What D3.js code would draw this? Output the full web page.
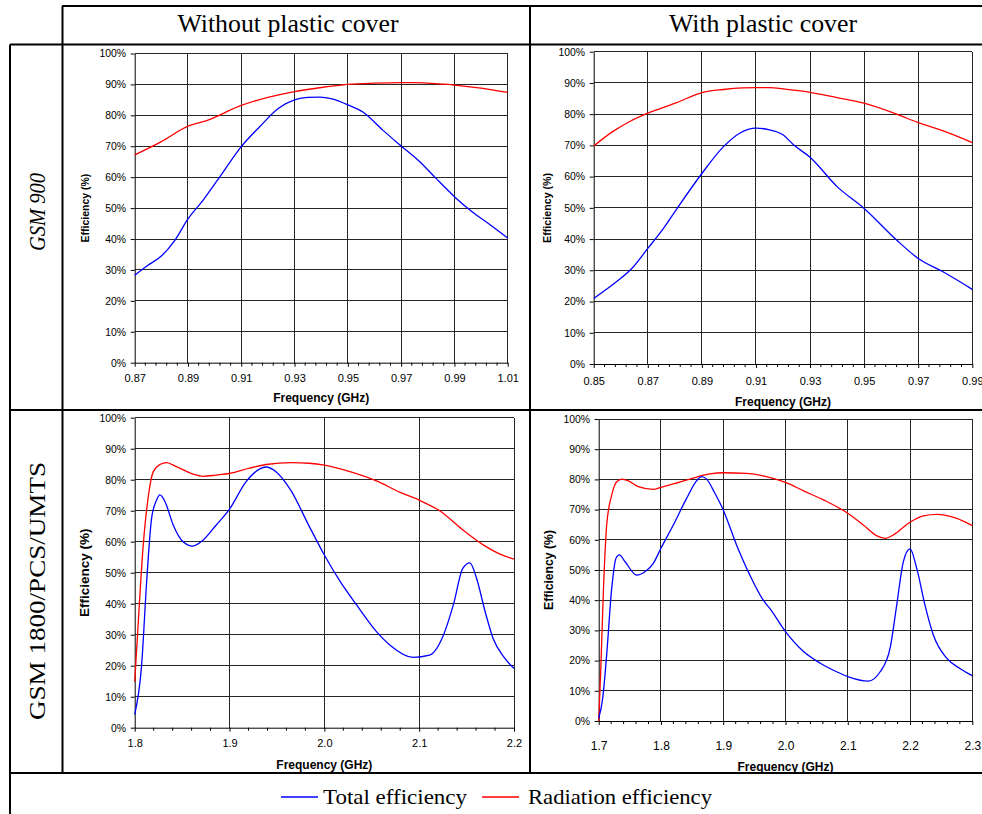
<html>
<head>
<title>Antenna efficiency, GSM 900 and GSM 1800/PCS/UMTS</title>
<script src="https://d3js.org/d3.v7.min.js"></script>
<style>
body { margin: 0; background: #ffffff; }
.tick text { font-family: 'Liberation Sans', Arial, sans-serif; fill: #000; }
.axis path, .axis line { stroke: #000; }
.grid { stroke: #262626; stroke-width: 1; shape-rendering: crispEdges; }
.frame { stroke: #000; stroke-width: 2; }
.serif { font-family: 'Liberation Serif', 'Times New Roman', serif; }
.sans { font-family: 'Liberation Sans', Arial, sans-serif; }
</style>
</head>
<body>
<svg id="chart" width="982" height="814"></svg>
<script>
// ---- data ----
var columnTitles = ["Without plastic cover", "With plastic cover"];
var rowTitles = ["GSM 900", "GSM 1800/PCS/UMTS"];
var legendLabels = ["Total efficiency", "Radiation efficiency"];
var seriesColors = ["#0000ff", "#ff0000"];

var yTicks = [0, 10, 20, 30, 40, 50, 60, 70, 80, 90, 100];
var xTicks900NoCover = [0.87, 0.89, 0.91, 0.93, 0.95, 0.97, 0.99, 1.01];
var xTicks900Cover = [0.85, 0.87, 0.89, 0.91, 0.93, 0.95, 0.97, 0.99];
var xTicks1800NoCover = [1.8, 1.9, 2.0, 2.1, 2.2];
var xTicks1800Cover = [1.7, 1.8, 1.9, 2.0, 2.1, 2.2, 2.3];

// [frequency GHz, efficiency %]
var total900NoCover = [[0.87,28.3],[0.875,31.5],[0.88,34.5],[0.885,39.5],[0.89,46.5],[0.8957,52.6],[0.902,60.2],
  [0.91,69.9],[0.917,76.4],[0.924,82.3],[0.93,85.0],[0.935,85.8],[0.9395,85.9],[0.944,85.3],[0.95,83.4],
  [0.9558,81.0],[0.963,75.3],[0.97,70.1],[0.977,65.0],[0.983,59.7],[0.99,53.7],[0.9965,48.9],[1.0034,44.6],[1.01,40.3]];
var rad900NoCover = [[0.87,67.2],[0.88,71.5],[0.89,76.5],[0.897,78.3],[0.91,83.2],[0.92,85.8],[0.93,87.7],
  [0.94,89.0],[0.95,90.0],[0.96,90.4],[0.97,90.6],[0.975,90.6],[0.98,90.4],[0.99,89.8],[1.0,88.8],[1.01,87.4]];

var total900Cover = [[0.85,21.0],[0.8585,26.4],[0.864,30.5],[0.87,37.0],[0.8758,43.4],[0.8813,50.4],[0.89,61.0],
  [0.898,69.6],[0.904,73.9],[0.91,75.5],[0.915,75.0],[0.92,73.4],[0.924,70.1],[0.93,66.2],[0.94,56.8],
  [0.95,49.8],[0.962,39.7],[0.97,33.8],[0.979,29.6],[0.99,23.9]];
var rad900Cover = [[0.85,69.8],[0.857,74.4],[0.863,77.5],[0.87,80.3],[0.8807,83.7],[0.89,86.9],[0.898,87.9],
  [0.905,88.4],[0.91,88.5],[0.9152,88.5],[0.92,88.1],[0.93,87.0],[0.94,85.3],[0.95,83.5],[0.962,80.0],
  [0.97,77.3],[0.979,74.7],[0.99,70.9]];

var total1800NoCover = [[1.8,4.3],[1.8073,20.2],[1.8126,47.1],[1.8178,67.5],[1.823,73.4],[1.8266,75.1],[1.832,72.9],
  [1.8406,65.4],[1.851,60.0],[1.8615,58.6],[1.872,60.5],[1.886,65.4],[1.9,70.5],[1.9175,79.4],[1.9315,83.4],
  [1.9385,84.1],[1.949,82.6],[1.965,76.4],[1.983,65.6],[2.0,55.7],[2.0168,47.1],[2.034,39.6],
  [2.055,31.0],[2.069,26.7],[2.0937,22.7],[2.111,23.4],[2.125,29.4],[2.136,39.6],[2.146,51.4],[2.1535,53.2],
  [2.1605,48.2],[2.1696,37.4],[2.178,28.8],[2.189,22.9],[2.2,19.1]];
var rad1800NoCover = [[1.8,14.8],[1.8038,34.2],[1.809,58.9],[1.8143,74.5],[1.8196,82.6],[1.8266,84.9],[1.8336,85.5],
  [1.844,84.2],[1.8615,81.8],[1.872,81.1],[1.886,81.5],[1.9,82.0],[1.921,83.7],[1.9385,84.9],[1.966,85.5],
  [1.984,85.3],[2.0,84.7],[2.027,82.6],[2.055,79.6],[2.08,75.9],[2.1,73.4],[2.122,69.9],[2.146,63.8],
  [2.168,58.9],[2.189,55.5],[2.2,54.4]];

var total1800Cover = [[1.7,0.9],[1.7064,7.5],[1.7128,21.9],[1.7209,43.9],[1.7278,53.9],[1.7332,55.0],[1.7422,52.8],
  [1.761,48.3],[1.7743,49.4],[1.7877,52.2],[1.8,57.2],[1.8198,64.9],[1.8412,73.7],[1.8572,79.5],[1.8652,80.9],
  [1.8733,80.1],[1.8866,75.4],[1.9,69.9],[1.9214,58.3],[1.9428,48.3],[1.964,40.1],[1.9754,37.1],[2.0,29.6],
  [2.029,23.0],[2.056,19.1],[2.082,16.3],[2.1,14.7],[2.133,13.2],[2.152,16.3],[2.168,24.1],[2.1786,38.4],
  [2.1893,52.8],[2.2,57.0],[2.2107,50.6],[2.224,38.4],[2.2374,28.5],[2.2588,20.8],[2.2802,17.4],[2.3,15.0]];
var rad1800Cover = [[1.7,0.0],[1.7032,16.3],[1.7075,42.8],[1.7128,64.9],[1.7209,74.8],[1.7289,79.2],[1.737,80.1],
  [1.7476,79.5],[1.7636,77.6],[1.7877,76.7],[1.8,77.4],[1.8198,78.5],[1.8465,80.1],[1.8786,81.8],[1.9,82.2],
  [1.9374,82.0],[1.964,81.2],[1.9754,80.6],[2.0,79.0],[2.029,76.2],[2.061,73.2],[2.1,68.8],[2.125,64.9],
  [2.146,61.4],[2.1604,60.5],[2.173,61.6],[2.2,65.8],[2.2214,67.9],[2.2428,68.4],[2.2749,67.1],[2.3,64.7]];

var svg = d3.select("#chart");

// plot boxes and text placement for each of the four cells
var panels = [
  { ticks: xTicks900NoCover, fmt: ".2f", minor: 4, total: total900NoCover, rad: rad900NoCover,
    left: 134.7, right: 507.7, top: 53.5, bottom: 362.7,
    xFont: 11, xPad: 7.5, titleDy: 39, yLabelX: 85, yLabelSize: 10.5 },
  { ticks: xTicks900Cover, fmt: ".2f", minor: 4, total: total900Cover, rad: rad900Cover,
    left: 593.7, right: 972.3, top: 51.7, bottom: 364,
    xFont: 11, xPad: 9.5, titleDy: 42, yLabelX: 547, yLabelSize: 10.7 },
  { ticks: xTicks1800NoCover, fmt: ".1f", minor: 4, total: total1800NoCover, rad: rad1800NoCover,
    left: 134.7, right: 514, top: 417.7, bottom: 727.7,
    xFont: 11, xPad: 7.5, titleDy: 41, yLabelX: 84, yLabelSize: 13.5 },
  { ticks: xTicks1800Cover, fmt: ".1f", minor: 4, total: total1800Cover, rad: rad1800Cover,
    left: 598.7, right: 972.3, top: 419, bottom: 721,
    xFont: 12, xPad: 16, titleDy: 50, yLabelX: 549, yLabelSize: 12.2 }
];

drawTable();
panels.forEach(drawPanel);
drawLegend();

function drawTable() {
  var frame = [
    [62, 6, 990, 6], [10, 44.5, 990, 44.5], [10, 410, 990, 410], [10, 773, 990, 773],
    [10, 44.5, 10, 814], [62.5, 6, 62.5, 773], [530, 6, 530, 773]
  ];
  svg.selectAll("line.frame").data(frame).enter().append("line")
    .attr("class", "frame")
    .attr("x1", function (d) { return d[0]; })
    .attr("y1", function (d) { return d[1]; })
    .attr("x2", function (d) { return d[2]; })
    .attr("y2", function (d) { return d[3]; });

  // column headers
  var colX = [288, 763];
  svg.selectAll("text.colTitle").data(columnTitles).enter().append("text")
    .attr("class", "colTitle serif")
    .attr("x", function (d, i) { return colX[i]; })
    .attr("y", 32)
    .attr("text-anchor", "middle")
    .style("font-size", "25.8px")
    .text(function (d) { return d; });

  // row headers, rotated
  var rowY = [212, 591];
  var rowLen = [78, 258];
  svg.selectAll("text.rowTitle").data(rowTitles).enter().append("text")
    .attr("class", "rowTitle serif")
    .attr("transform", function (d, i) { return "translate(37," + rowY[i] + ") rotate(-90)"; })
    .attr("text-anchor", "middle")
    .attr("dy", ".35em")
    .attr("textLength", function (d, i) { return rowLen[i]; })
    .attr("lengthAdjust", "spacingAndGlyphs")
    .style("font-size", "24px")
    .style("font-style", function (d, i) { return i === 0 ? "italic" : "normal"; })
    .text(function (d) { return d; });
}

function drawPanel(p) {
  var x = d3.scaleLinear()
    .domain([p.ticks[0], p.ticks[p.ticks.length - 1]])
    .range([p.left, p.right]);
  var y = d3.scaleLinear().domain([0, 100]).range([p.bottom, p.top]);
  var g = svg.append("g");

  // gridlines
  g.selectAll("line.hgrid").data(yTicks.slice(1)).enter().append("line")
    .attr("class", "grid")
    .attr("x1", p.left).attr("x2", p.right)
    .attr("y1", function (d) { return y(d); })
    .attr("y2", function (d) { return y(d); });
  g.selectAll("line.vgrid").data(p.ticks.slice(1)).enter().append("line")
    .attr("class", "grid")
    .attr("y1", p.top).attr("y2", p.bottom)
    .attr("x1", function (d) { return x(d); })
    .attr("x2", function (d) { return x(d); });

  // y axis
  var yAxis = d3.axisLeft(y).tickValues(yTicks).tickSize(4).tickSizeOuter(0).tickPadding(4.7)
    .tickFormat(function (d) { return d + "%"; });
  var ya = g.append("g").attr("class", "axis")
    .attr("transform", "translate(" + p.left + ",0)")
    .call(yAxis);
  ya.selectAll("text").style("font-size", "10.4px");

  // minor ticks on the x axis
  var minor = [];
  for (var i = 0; i < p.ticks.length - 1; i++) {
    var step = (p.ticks[i + 1] - p.ticks[i]) / (p.minor + 1);
    for (var k = 1; k <= p.minor; k++) minor.push(p.ticks[i] + k * step);
  }
  g.selectAll("line.minor").data(minor).enter().append("line")
    .attr("stroke", "#000")
    .attr("x1", function (d) { return x(d); })
    .attr("x2", function (d) { return x(d); })
    .attr("y1", p.bottom).attr("y2", p.bottom + 3);

  // x axis
  var xAxis = d3.axisBottom(x).tickValues(p.ticks).tickSize(4).tickSizeOuter(0).tickPadding(p.xPad)
    .tickFormat(d3.format(p.fmt));
  var xa = g.append("g").attr("class", "axis")
    .attr("transform", "translate(0," + p.bottom + ")")
    .call(xAxis);
  xa.selectAll("text").style("font-size", p.xFont + "px");

  // axis titles
  g.append("text")
    .attr("class", "sans")
    .attr("x", (p.left + p.right) / 2)
    .attr("y", p.bottom + p.titleDy)
    .attr("text-anchor", "middle")
    .style("font-size", "12px")
    .style("font-weight", "bold")
    .text("Frequency (GHz)");

  g.append("text")
    .attr("class", "sans")
    .attr("transform", "translate(" + p.yLabelX + "," + ((p.top + p.bottom) / 2) + ") rotate(-90)")
    .attr("text-anchor", "middle")
    .attr("dy", ".35em")
    .style("font-size", p.yLabelSize + "px")
    .style("font-weight", "bold")
    .text("Efficiency (%)");

  // curves
  var line = d3.line()
    .x(function (d) { return x(d[0]); })
    .y(function (d) { return y(d[1]); })
    .curve(d3.curveMonotoneX);

  g.append("path").datum(p.rad)
    .attr("fill", "none").attr("stroke", seriesColors[1]).attr("stroke-width", 1.3)
    .attr("d", line);
  g.append("path").datum(p.total)
    .attr("fill", "none").attr("stroke", seriesColors[0]).attr("stroke-width", 1.3)
    .attr("d", line);
}

function drawLegend() {
  var lineX = [281, 482];
  var textX = [323, 528];
  var textLen = [144, 184];
  var lg = svg.selectAll("g.legend").data(legendLabels).enter().append("g").attr("class", "legend");
  lg.append("line")
    .attr("x1", function (d, i) { return lineX[i]; })
    .attr("x2", function (d, i) { return lineX[i] + 37; })
    .attr("y1", 797).attr("y2", 797)
    .attr("stroke", function (d, i) { return seriesColors[i]; })
    .attr("stroke-width", 1.6);
  lg.append("text")
    .attr("class", "serif")
    .attr("x", function (d, i) { return textX[i]; })
    .attr("y", 804)
    .attr("textLength", function (d, i) { return textLen[i]; })
    .attr("lengthAdjust", "spacingAndGlyphs")
    .style("font-size", "21px")
    .text(function (d) { return d; });
}
</script>
</body>
</html>
